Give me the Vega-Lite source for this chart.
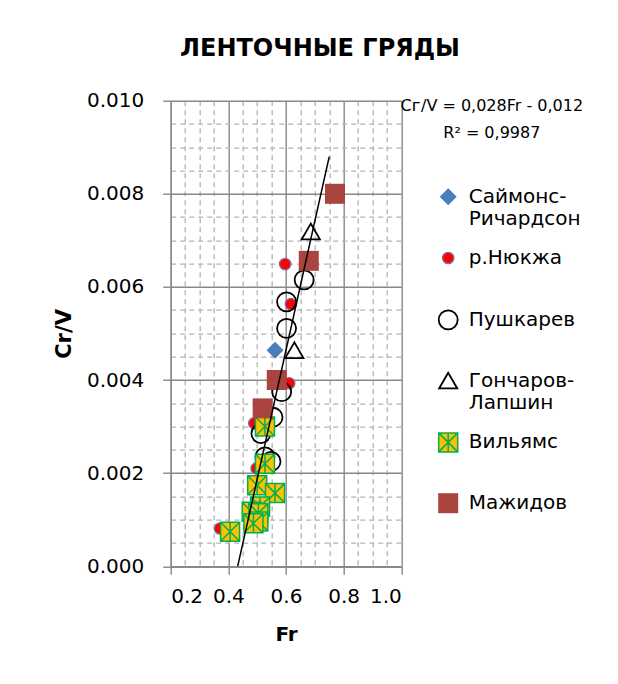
{
  "$schema": "https://vega.github.io/schema/vega-lite/v6.json",
  "width": 230.6,
  "height": 465.5,
  "autosize": {"type": "none"},
  "padding": {"left": 170.7, "top": 100.7, "right": 216.7, "bottom": 117.8},
  "background": "white",
  "config": {"view": {"stroke": null}, "font": "DejaVu Sans",
    "legend": {"orient": "none", "legendX": 267, "legendY": 86, "title": null, "padding": 0, "labelFont": "DejaVu Sans", "labelFontSize": 20, "labelColor": "black", "labelLimit": 400, "labelOffset": 10, "labelBaseline": "middle", "gridAlign": "all", "rowPadding": 16.3}},
  "title": {"text": "ЛЕНТОЧНЫЕ ГРЯДЫ", "font": "DejaVu Sans", "fontSize": 24, "fontWeight": "bold", "color": "black", "anchor": "middle", "frame": "group", "dx": 34, "baseline": "alphabetic", "offset": 11},
  "datasets": {
    "points": [
      {"series": "Саймонс-Ричардсон", "Fr": 0.562, "CrV": 0.00464},
      {"series": "р.Нюкжа", "Fr": 0.597, "CrV": 0.00649},
      {"series": "р.Нюкжа", "Fr": 0.617, "CrV": 0.00563},
      {"series": "р.Нюкжа", "Fr": 0.611, "CrV": 0.00393},
      {"series": "р.Нюкжа", "Fr": 0.371, "CrV": 0.00081},
      {"series": "р.Нюкжа", "Fr": 0.498, "CrV": 0.0021},
      {"series": "р.Нюкжа", "Fr": 0.49, "CrV": 0.00307},
      {"series": "Пушкарев", "Fr": 0.663, "CrV": 0.00615},
      {"series": "Пушкарев", "Fr": 0.602, "CrV": 0.00568},
      {"series": "Пушкарев", "Fr": 0.602, "CrV": 0.00511},
      {"series": "Пушкарев", "Fr": 0.585, "CrV": 0.00375},
      {"series": "Пушкарев", "Fr": 0.555, "CrV": 0.0032},
      {"series": "Пушкарев", "Fr": 0.513, "CrV": 0.00285},
      {"series": "Пушкарев", "Fr": 0.527, "CrV": 0.00235},
      {"series": "Пушкарев", "Fr": 0.548, "CrV": 0.00225},
      {"series": "Гончаров-Лапшин", "Fr": 0.686, "CrV": 0.00719},
      {"series": "Гончаров-Лапшин", "Fr": 0.629, "CrV": 0.00464},
      {"series": "Вильямс", "Fr": 0.527, "CrV": 0.003},
      {"series": "Вильямс", "Fr": 0.527, "CrV": 0.0022},
      {"series": "Вильямс", "Fr": 0.5, "CrV": 0.00174},
      {"series": "Вильямс", "Fr": 0.562, "CrV": 0.00157},
      {"series": "Вильямс", "Fr": 0.51, "CrV": 0.00128},
      {"series": "Вильямс", "Fr": 0.481, "CrV": 0.00117},
      {"series": "Вильямс", "Fr": 0.504, "CrV": 0.00114},
      {"series": "Вильямс", "Fr": 0.504, "CrV": 0.00096},
      {"series": "Вильямс", "Fr": 0.487, "CrV": 0.00092},
      {"series": "Вильямс", "Fr": 0.406, "CrV": 0.00074},
      {"series": "Мажидов", "Fr": 0.77, "CrV": 0.008},
      {"series": "Мажидов", "Fr": 0.679, "CrV": 0.00656},
      {"series": "Мажидов", "Fr": 0.568, "CrV": 0.004},
      {"series": "Мажидов", "Fr": 0.519, "CrV": 0.00339}
    ],
    "trend": [
      {"Fr": 0.4325, "CrV": 0.0},
      {"Fr": 0.75, "CrV": 0.0088}
    ]
  },
  "resolve": {"axis": {"x": "independent", "y": "independent"}},
  "layer": [
    {
      "data": {"name": "points"},
      "mark": {"type": "point", "opacity": 1},
      "encoding": {
        "x": {"field": "Fr", "type": "quantitative", "scale": {"domain": [0.2, 1.0], "nice": false, "zero": false},
          "axis": {"orient": "bottom", "values": [0.25, 0.3, 0.35, 0.45, 0.5, 0.55, 0.65, 0.7, 0.75, 0.85, 0.9, 0.95], "grid": true, "gridColor": "#b3b3b3", "gridWidth": 1.3, "gridDash": [5, 4], "domain": false, "ticks": false, "labels": false, "title": null}},
        "y": {"field": "CrV", "type": "quantitative", "scale": {"domain": [0, 0.01], "nice": false, "zero": false},
          "axis": {"orient": "left", "values": [0.0005, 0.001, 0.0015, 0.0025, 0.003, 0.0035, 0.0045, 0.005, 0.0055, 0.0065, 0.007, 0.0075, 0.0085, 0.009, 0.0095], "grid": true, "gridColor": "#b3b3b3", "gridWidth": 1.3, "gridDash": [5, 4], "domain": false, "ticks": false, "labels": false, "title": null}},
        "shape": {"field": "series", "type": "nominal",
          "scale": {"domain": ["Саймонс-Ричардсон", "р.Нюкжа", "Пушкарев", "Гончаров-Лапшин", "Вильямс", "Мажидов"],
            "range": ["diamond", "circle", "circle", "triangle-up", "M-1,-1L1,-1L1,1L-1,1Z M-1,-1L1,1 M1,-1L-1,1 M0,-1L0,1", "square"]},
          "legend": {"labelExpr": "datum.label == 'Саймонс-Ричардсон' ? ['Саймонс-', 'Ричардсон'] : datum.label == 'Гончаров-Лапшин' ? ['Гончаров-', 'Лапшин'] : datum.label"}},
        "fill": {"field": "series", "type": "nominal",
          "scale": {"domain": ["Саймонс-Ричардсон", "р.Нюкжа", "Пушкарев", "Гончаров-Лапшин", "Вильямс", "Мажидов"],
            "range": ["#4A7EBB", "#FF0000", "transparent", "transparent", "#FFC000", "#A9443F"]},
          "legend": {"labelExpr": "datum.label == 'Саймонс-Ричардсон' ? ['Саймонс-', 'Ричардсон'] : datum.label == 'Гончаров-Лапшин' ? ['Гончаров-', 'Лапшин'] : datum.label"}},
        "stroke": {"field": "series", "type": "nominal",
          "scale": {"domain": ["Саймонс-Ричардсон", "р.Нюкжа", "Пушкарев", "Гончаров-Лапшин", "Вильямс", "Мажидов"],
            "range": ["#4A7EBB", "#7F6FA8", "#000000", "#000000", "#00B050", "#A9443F"]},
          "legend": {"labelExpr": "datum.label == 'Саймонс-Ричардсон' ? ['Саймонс-', 'Ричардсон'] : datum.label == 'Гончаров-Лапшин' ? ['Гончаров-', 'Лапшин'] : datum.label"}},
        "strokeWidth": {"field": "series", "type": "nominal",
          "scale": {"type": "ordinal", "domain": ["Саймонс-Ричардсон", "р.Нюкжа", "Пушкарев", "Гончаров-Лапшин", "Вильямс", "Мажидов"],
            "range": [0, 1.3, 1.8, 1.8, 1.5, 0]},
          "legend": {"labelExpr": "datum.label == 'Саймонс-Ричардсон' ? ['Саймонс-', 'Ричардсон'] : datum.label == 'Гончаров-Лапшин' ? ['Гончаров-', 'Лапшин'] : datum.label"}},
        "size": {"field": "series", "type": "nominal",
          "scale": {"type": "ordinal", "domain": ["Саймонс-Ричардсон", "р.Нюкжа", "Пушкарев", "Гончаров-Лапшин", "Вильямс", "Мажидов"],
            "range": [289, 130, 361, 330, 361, 400]},
          "legend": {"labelExpr": "datum.label == 'Саймонс-Ричардсон' ? ['Саймонс-', 'Ричардсон'] : datum.label == 'Гончаров-Лапшин' ? ['Гончаров-', 'Лапшин'] : datum.label"}}
      }
    },
    {
      "data": {"name": "trend"},
      "mark": {"type": "line", "color": "black", "strokeWidth": 1.5},
      "encoding": {
        "x": {"field": "Fr", "type": "quantitative", "scale": {"domain": [0.2, 1.0], "nice": false, "zero": false},
          "axis": {"orient": "bottom", "values": [0.2, 0.4, 0.6, 0.8, 1.0], "format": ".1f", "grid": true, "gridColor": "#888888", "gridWidth": 1.4, "domainColor": "#888888", "domainWidth": 1.4, "tickColor": "#888888", "tickWidth": 1.4, "tickSize": 8, "labelFont": "DejaVu Sans", "labelFontSize": 20, "labelColor": "black", "labelPadding": 12, "title": "Fr", "titleFont": "DejaVu Sans", "titleFontSize": 20, "titleFontWeight": "bold", "titleColor": "black", "titlePadding": 18}},
        "y": {"field": "CrV", "type": "quantitative", "scale": {"domain": [0, 0.01], "nice": false, "zero": false},
          "axis": {"orient": "left", "values": [0, 0.002, 0.004, 0.006, 0.008, 0.01], "format": ".3f", "grid": true, "gridColor": "#888888", "gridWidth": 1.4, "domainColor": "#888888", "domainWidth": 1.4, "tickColor": "#888888", "tickWidth": 1.4, "tickSize": 8, "labelFont": "DejaVu Sans", "labelFontSize": 20, "labelColor": "black", "labelPadding": 19, "title": "Cr/V", "titleFont": "DejaVu Sans", "titleFontSize": 21, "titleFontWeight": "bold", "titleColor": "black", "titlePadding": 12}}
      }
    },
    {
      "data": {"values": [{}]},
      "mark": {"type": "text", "font": "DejaVu Sans", "fontSize": 16, "align": "center", "baseline": "middle", "lineHeight": 27, "color": "black"},
      "encoding": {
        "x": {"datum": 1.314, "type": "quantitative", "axis": null},
        "y": {"datum": 0.00988, "type": "quantitative", "axis": null},
        "text": {"value": ["Cᴦ/V = 0,028Fr - 0,012", "R² = 0,9987"]}
      }
    }
  ]
}
